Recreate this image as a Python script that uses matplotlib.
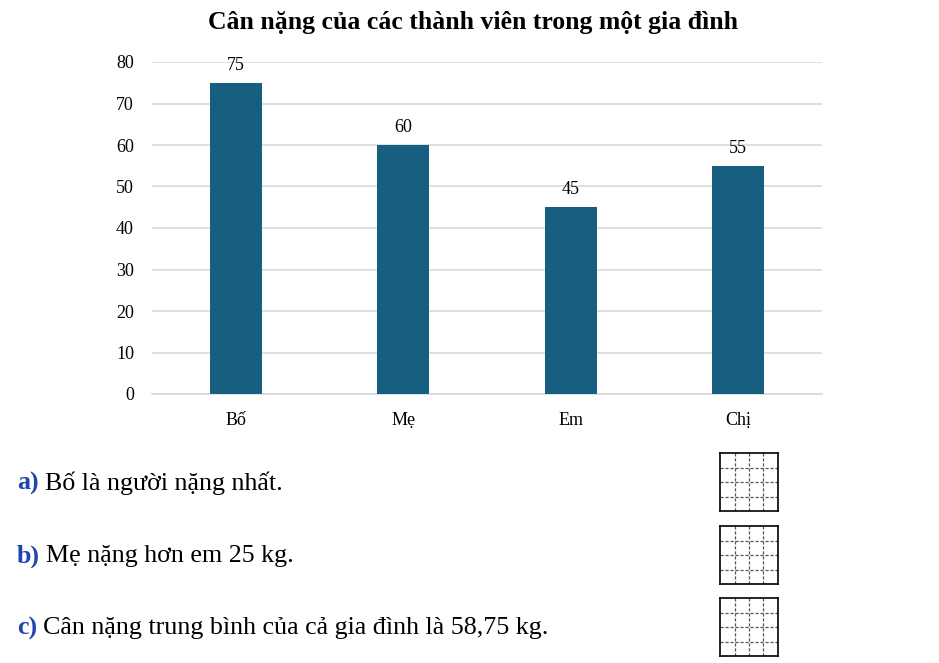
import numpy as np
import matplotlib.pyplot as plt

# Data
members = ['Bố', 'Mẹ', 'Em', 'Chị']
weights = [75, 60, 45, 55]
y_ticks = [0, 10, 20, 30, 40, 50, 60, 70, 80]
statements = [('a)', 'Bố là người nặng nhất.'),
              ('b)', 'Mẹ nặng hơn em 25 kg.'),
              ('c)', 'Cân nặng trung bình của cả gia đình là 58,75 kg.')]

W, H = 939, 663
plt.rcParams['font.family'] = ['Liberation Serif', 'DejaVu Serif']

fig = plt.figure(figsize=(W / 100, H / 100), dpi=100)


def fx(px):
    return px / W


def fy(py):
    return 1 - py / H


ax = fig.add_axes([fx(152), fy(394), fx(822) - fx(152), fy(62) - fy(394)])
x = np.arange(len(members)) + 0.5
bars = ax.bar(x, weights, width=0.31, color='#175f80', zorder=3)
for xi, w in zip(x, weights):
    ax.text(xi, w + 2.2, str(w), ha='center', va='bottom', fontsize=13)
ax.set_xlim(0, len(members))
ax.set_ylim(0, 80)
ax.set_yticks(y_ticks)
ax.set_yticklabels([str(t) for t in y_ticks], fontsize=13)
ax.set_xticks(x)
ax.set_xticklabels(members, fontsize=13)
ax.grid(axis='y', color='#d9d9d9', linewidth=1.2, zorder=0)
for s in ['top', 'right', 'left']:
    ax.spines[s].set_visible(False)
ax.spines['bottom'].set_color('#d9d9d9')
ax.spines['bottom'].set_linewidth(1.2)
ax.tick_params(length=0)
ax.tick_params(axis='x', pad=13)
ax.tick_params(axis='y', pad=13)

fig.text(fx(473), fy(23), 'Cân nặng của các thành viên trong một gia đình',
         ha='center', va='center', fontsize=18.5, fontweight='bold')

# statements with answer boxes
text_y = [483, 556, 628]
box_top = [453, 526, 598]
for (lab, txt), ty, bt in zip(statements, text_y, box_top):
    t1 = fig.text(fx(17), fy(ty), lab, ha='left', va='center', fontsize=18.7,
                  fontweight='bold', color='#1f45b0')
    fig.canvas.draw()
    bb = t1.get_window_extent()
    fig.text(bb.x1 / W + fx(6), fy(ty), txt, ha='left', va='center', fontsize=18.7)

    bx = fig.add_axes([fx(720), fy(bt + 58), fx(58), fx(58) * W / H])
    bx.set_xlim(0, 4)
    bx.set_ylim(0, 4)
    for k in range(1, 4):
        bx.axvline(k, color='#555555', linestyle=(0, (2.5, 1.5)), linewidth=0.9)
        bx.axhline(k, color='#555555', linestyle=(0, (2.5, 1.5)), linewidth=0.9)
    bx.set_xticks([])
    bx.set_yticks([])
    for s in bx.spines.values():
        s.set_linewidth(1.2)
        s.set_color('black')

fig.savefig('out.png', dpi=100)
